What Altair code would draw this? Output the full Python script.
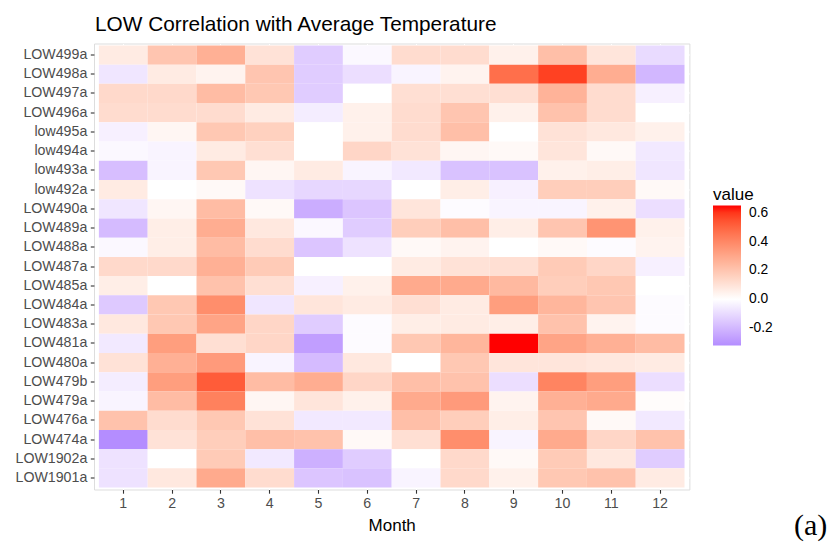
import altair as alt
import pandas as pd

# Stations, top row first (case-insensitive alphabetical, descending)
stations = [
    "LOW499a", "LOW498a", "LOW497a", "LOW496a", "low495a", "low494a",
    "low493a", "low492a", "LOW490a", "LOW489a", "LOW488a", "LOW487a",
    "LOW485a", "LOW484a", "LOW483a", "LOW481a", "LOW480a", "LOW479b",
    "LOW479a", "LOW476a", "LOW474a", "LOW1902a", "LOW1901a",
]
months = list(range(1, 13))

# Correlation of each station's LOW with average temperature, months 1..12
LOW499a = [0.07, 0.20, 0.27, 0.10, -0.14, -0.02, 0.12, 0.12, 0.05, 0.22, 0.09, -0.10]
LOW498a = [-0.07, 0.07, 0.04, 0.20, -0.14, -0.09, -0.03, 0.04, 0.47, 0.58, 0.28, -0.20]
LOW497a = [0.13, 0.13, 0.23, 0.19, -0.14, 0.00, 0.11, 0.11, 0.11, 0.26, 0.12, -0.04]
LOW496a = [0.12, 0.12, 0.12, 0.07, -0.05, 0.05, 0.12, 0.20, 0.05, 0.21, 0.12, 0.00]
low495a = [-0.04, 0.03, 0.19, 0.16, 0.00, 0.05, 0.12, 0.22, 0.00, 0.10, 0.08, 0.05]
low494a = [-0.02, -0.03, 0.07, 0.11, 0.00, 0.14, 0.10, 0.03, 0.02, 0.09, 0.02, -0.06]
low493a = [-0.18, -0.03, 0.19, 0.03, 0.07, -0.03, -0.06, -0.17, -0.17, 0.05, 0.06, -0.07]
low492a = [0.07, 0.00, 0.02, -0.08, -0.11, -0.11, 0.00, 0.06, -0.04, 0.17, 0.17, 0.02]
LOW490a = [-0.07, 0.03, 0.23, 0.02, -0.23, -0.16, 0.09, -0.01, -0.03, -0.03, 0.05, -0.09]
LOW489a = [-0.19, 0.06, 0.28, 0.08, -0.02, -0.14, 0.17, 0.22, 0.06, 0.20, 0.36, 0.05]
LOW488a = [-0.02, 0.06, 0.23, 0.12, -0.16, -0.08, 0.02, 0.04, 0.00, 0.02, -0.01, 0.04]
LOW487a = [0.13, 0.13, 0.27, 0.18, 0.00, 0.00, 0.07, 0.10, 0.11, 0.18, 0.14, -0.04]
LOW485a = [0.06, 0.00, 0.21, 0.11, -0.04, 0.05, 0.29, 0.29, 0.24, 0.17, 0.19, 0.00]
LOW484a = [-0.15, 0.19, 0.38, -0.07, 0.09, 0.07, 0.11, 0.07, 0.33, 0.25, 0.20, -0.01]
LOW483a = [0.08, 0.19, 0.31, 0.14, -0.14, -0.01, 0.06, 0.07, 0.06, 0.21, 0.04, -0.01]
LOW481a = [-0.06, 0.33, 0.11, 0.14, -0.27, -0.01, 0.19, 0.25, 0.65, 0.31, 0.27, 0.23]
LOW480a = [0.10, 0.27, 0.34, -0.03, -0.19, 0.08, 0.00, 0.19, 0.09, 0.09, 0.08, 0.07]
LOW479b = [-0.05, 0.33, 0.52, 0.23, 0.28, 0.14, 0.22, 0.21, -0.09, 0.41, 0.33, -0.09]
LOW479a = [-0.03, 0.23, 0.42, 0.03, 0.09, 0.05, 0.29, 0.34, 0.04, 0.27, 0.29, 0.01]
LOW476a = [0.21, 0.12, 0.19, 0.10, -0.06, -0.06, 0.22, 0.17, 0.06, 0.20, 0.02, -0.06]
LOW474a = [-0.32, 0.10, 0.17, 0.22, 0.21, 0.02, 0.11, 0.38, -0.03, 0.29, 0.14, 0.21]
LOW1902a = [-0.08, 0.00, 0.18, -0.06, -0.22, -0.14, 0.00, 0.13, 0.02, 0.18, 0.08, -0.14]
LOW1901a = [-0.08, 0.08, 0.29, 0.12, -0.16, -0.17, -0.03, 0.13, 0.05, 0.19, 0.21, 0.07]

rows = [LOW499a, LOW498a, LOW497a, LOW496a, low495a, low494a, low493a, low492a,
        LOW490a, LOW489a, LOW488a, LOW487a, LOW485a, LOW484a, LOW483a, LOW481a,
        LOW480a, LOW479b, LOW479a, LOW476a, LOW474a, LOW1902a, LOW1901a]

df = pd.DataFrame(
    [(s, m, v) for s, r in zip(stations, rows) for m, v in zip(months, r)],
    columns=["station", "Month", "value"],
)

lo, hi = df["value"].min(), df["value"].max()


# Diverging blue-white-red in Lab space, symmetric around zero:
# the data minimum only reaches part of the way towards blue.
def _lin(c):
    c /= 255.0
    return c / 12.92 if c <= 0.04045 else ((c + 0.055) / 1.055) ** 2.4


def _gam(c):
    c = 12.92 * c if c <= 0.0031308 else 1.055 * c ** (1 / 2.4) - 0.055
    return max(0, min(255, round(c * 255)))


def to_lab(rgb):
    r, g, b = (_lin(float(c)) for c in rgb)
    x = (0.4124 * r + 0.3576 * g + 0.1805 * b) / 0.95047
    y = 0.2126 * r + 0.7152 * g + 0.0722 * b
    z = (0.0193 * r + 0.1192 * g + 0.9505 * b) / 1.08883
    f = lambda t: t ** (1 / 3) if t > 0.008856 else 7.787 * t + 16 / 116
    fx, fy, fz = f(x), f(y), f(z)
    return 116 * fy - 16, 500 * (fx - fy), 200 * (fy - fz)


def from_lab(L, a, b):
    fy = (L + 16) / 116
    fx, fz = fy + a / 500, fy - b / 200
    g = lambda t: t ** 3 if t ** 3 > 0.008856 else (t - 16 / 116) / 7.787
    x, y, z = g(fx) * 0.95047, g(fy), g(fz) * 1.08883
    r = 3.2406 * x - 1.5372 * y - 0.4986 * z
    gg = -0.9689 * x + 1.8758 * y + 0.0415 * z
    bb = 0.0557 * x - 0.2040 * y + 1.0570 * z
    return "#%02x%02x%02x" % (_gam(r), _gam(gg), _gam(bb))


w_lab, b_lab = to_lab((255, 255, 255)), to_lab((0, 0, 255))
t = -lo / hi
low_colour = from_lab(*[w + (bl - w) * t for w, bl in zip(w_lab, b_lab)])

FONT = "Liberation Sans"
W, H = 595.4, 446.0
LEFT, TOP = 94, 43.5

axis_common = dict(
    domain=False,
    grid=True,
    gridColor="white",
    gridWidth=1.1,
    bandPosition=0.5,
    zindex=0,
    tickColor="#333333",
    tickSize=3.7,
    tickWidth=1.1,
    labelFont=FONT,
    labelFontSize=14.2,
    labelColor="#4D4D4D",
)

heat = alt.Chart(df).mark_rect().encode(
    x=alt.X(
        "Month:O",
        scale=alt.Scale(paddingInner=0, paddingOuter=0.1),
        axis=alt.Axis(
            labelAngle=0,
            labelPadding=3,
            title="Month",
            titlePadding=7,
            titleFontWeight="normal",
            titleFontSize=17,
            titleFont=FONT,
            titleColor="black",
            **axis_common,
        ),
    ),
    y=alt.Y(
        "station:N",
        sort=stations,
        scale=alt.Scale(paddingInner=0, paddingOuter=0.1),
        axis=alt.Axis(title=None, labelPadding=3.5, **axis_common),
    ),
    color=alt.Color(
        "value:Q",
        scale=alt.Scale(
            domain=[lo, 0, hi],
            range=[low_colour, "#ffffff", "#ff0000"],
            interpolate="lab",
        ),
        legend=alt.Legend(
            orient="none",
            legendX=619,
            legendY=143,
            title="value",
            titleFont=FONT,
            titleFontSize=17,
            titleFontWeight="normal",
            titleColor="black",
            titlePadding=2,
            gradientLength=140,
            gradientThickness=28,
            gradientStrokeWidth=0,
            values=[-0.2, 0.0, 0.2, 0.4, 0.6],
            labelExpr="datum.value < 0 ? '-' + format(-datum.value, '.1f') : format(datum.value, '.1f')",
            labelFont=FONT,
            labelFontSize=13.8,
            labelColor="black",
            labelOffset=8,
            labelOverlap=False,
        ),
    ),
)

tag = alt.Chart(pd.DataFrame({"tag": ["(a)"]})).mark_text(
    font="Liberation Serif", fontSize=30, align="left", baseline="alphabetic", color="black"
).encode(
    x=alt.value(794 - LEFT),
    y=alt.value(535 - TOP),
    text="tag:N",
)

chart = (
    alt.layer(heat, tag)
    .properties(
        width=W,
        height=H,
        padding={"left": LEFT, "top": TOP, "right": 830 - LEFT - W, "bottom": 546 - TOP - H},
        autosize=alt.AutoSizeParams(type="none"),
        title=alt.TitleParams(
            text="LOW Correlation with Average Temperature",
            anchor="start",
            frame="group",
            font=FONT,
            fontSize=20.8,
            fontWeight="normal",
            color="black",
            baseline="alphabetic",
            offset=0,
            dy=8,
            dx=1,
        ),
    )
    .configure_view(fill="#EBEBEB", stroke=None)
    .configure(background="white")
)

chart.save("out.html", embed_options={"renderer": "svg", "actions": False})
